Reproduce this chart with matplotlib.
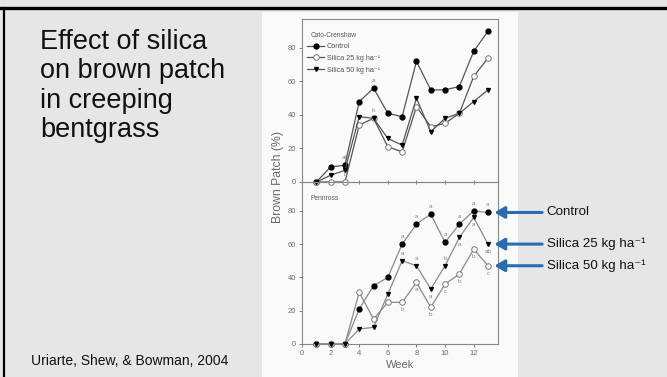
import numpy as np
import matplotlib
matplotlib.use("Agg")
import matplotlib.pyplot as plt
from matplotlib.patches import Rectangle
from matplotlib.lines import Line2D

plt.rcParams['font.family'] = ['Liberation Sans', 'DejaVu Sans']

weeks = np.arange(1, 14)

# Cato-Crenshaw (top panel)
ctrl_cato = [0, 9, 10, 48, 56, 41, 39, 72, 55, 55, 57, 78, 90]
si25_cato = [0, 0, 0, 34, 38, 21, 18, 45, 33, 35, 41, 63, 74]
si50_cato = [0, 4, 7, 39, 38, 26, 22, 50, 30, 38, 41, 48, 55]

# Pennross (bottom panel)
ctrl_pen = [0, 0, 0, 21, 35, 40, 60, 72, 78, 61, 72, 80, 79]
si25_pen = [0, 0, 0, 31, 15, 25, 25, 37, 22, 36, 42, 57, 47]
si50_pen = [0, 0, 0, 9, 10, 30, 50, 47, 33, 47, 64, 76, 60]

legend_labels = ["Control", "Silica 25 kg ha\u207b\u00b9", "Silica 50 kg ha\u207b\u00b9"]

# mean separation letters: (week, series, letter, side)
letters_cato = [(3, "ctrl", "ab", 1), (3, "si25", "b", 1),
                (5, "ctrl", "a", 1), (5, "si50", "b", 1)]
letters_pen = [(7, "ctrl", "a", 1), (7, "si50", "a", 1), (7, "si25", "b", -1),
               (8, "ctrl", "a", 1), (8, "si50", "a", 1), (8, "si25", "a", -1),
               (9, "ctrl", "a", 1), (9, "si50", "a", -1), (9, "si25", "b", -1),
               (10, "ctrl", "a", 1), (10, "si50", "b", 1), (10, "si25", "c", -1),
               (11, "ctrl", "a", 1), (11, "si50", "a", -1), (11, "si25", "b", -1),
               (12, "ctrl", "a", 1), (12, "si50", "a", -1), (12, "si25", "b", -1),
               (13, "ctrl", "a", 1), (13, "si50", "ab", -1), (13, "si25", "c", -1)]

# slide annotations on the right (label, value it points at)
arrow_labels = ["Control", "Silica 25 kg ha\u207b\u00b9", "Silica 50 kg ha\u207b\u00b9"]
arrow_values = [ctrl_pen[-1], si50_pen[-1], si25_pen[-1]]

W, H = 667, 377
fig = plt.figure(figsize=(W / 100, H / 100), dpi=100, facecolor='#e6e6e6')

# slide frame and pasted figure background
fig.add_artist(Line2D([0, 1], [1 - 8 / H, 1 - 8 / H], color='black', lw=2.4,
                      transform=fig.transFigure))
fig.add_artist(Line2D([4 / W, 4 / W], [0, 1 - 8 / H], color='black', lw=1.6,
                      transform=fig.transFigure))
fig.add_artist(Rectangle((262 / W, 0), 256 / W, (H - 12) / H, facecolor='#fafafa',
                         edgecolor='none', transform=fig.transFigure, zorder=0))

fig.text(40 / W, 1 - 29 / H, "Effect of silica\non brown patch\nin creeping\nbentgrass",
         fontsize=19.5, va='top', ha='left', linespacing=1.17, color='#111111')
fig.text(31 / W, 1 - 361 / H, "Uriarte, Shew, & Bowman, 2004", fontsize=10,
         va='center', ha='left', color='#111111')

left, width = 302 / W, 196 / W
ax1 = fig.add_axes([left, (H - 182) / H, width, 163 / H])
ax2 = fig.add_axes([left, (H - 344) / H, width, 162 / H])

gray = '#6a6a6a'


def draw_panel(ax, ctrl, si25, si50, line_col, letters, name):
    series = {"ctrl": ctrl, "si25": si25, "si50": si50}
    ax.set_facecolor('none')
    ax.plot(weeks, ctrl, '-o', color=line_col, lw=0.9, ms=3.5, mfc='black', mec='black',
            clip_on=False, zorder=3, label=legend_labels[0])
    ax.plot(weeks, si25, '-o', color=line_col, lw=0.9, ms=4.0, mfc='white', mec='#777777',
            mew=0.7, clip_on=False, zorder=3, label=legend_labels[1])
    ax.plot(weeks, si50, '-v', color=line_col, lw=0.9, ms=2.8, mfc='black', mec='black',
            clip_on=False, zorder=3, label=legend_labels[2])
    for wk, key, txt, side in letters:
        ax.text(wk, series[key][wk - 1] + side * 4.5, txt, fontsize=4.5, color='#888888',
                ha='center', va='center')
    ax.set_xlim(0, 13.7)
    ax.set_ylim(0, 97.3)
    ax.set_xticks(range(0, 13, 2))
    ax.set_yticks(range(0, 81, 20))
    ax.tick_params(labelsize=5.5, labelcolor=gray, color=gray, length=2.5, width=0.6, pad=2)
    for sp in ax.spines.values():
        sp.set_color('#888888')
        sp.set_linewidth(0.8)
    ax.text(0.045, 0.9, name, transform=ax.transAxes, fontsize=4.8, color='#555555',
            ha='left', va='center')


draw_panel(ax1, ctrl_cato, si25_cato, si50_cato, '#555555', letters_cato, "Cato-Crenshaw")
draw_panel(ax2, ctrl_pen, si25_pen, si50_pen, '#8a8a8a', letters_pen, "Pennross")
ax1.tick_params(axis='x', labelbottom=False, direction='inout')

leg = ax1.legend(loc='upper left', bbox_to_anchor=(0.01, 0.87), frameon=False,
                 fontsize=5.2, handlelength=2.4, labelspacing=0.65, handletextpad=0.4,
                 borderaxespad=0)
for t in leg.get_texts():
    t.set_color('#555555')

ax2.set_xlabel("Week", fontsize=8, color=gray, labelpad=2)
fig.text(278 / W, 1 - 177 / H, "Brown Patch (%)", rotation=90, fontsize=8.8, color=gray,
         ha='center', va='center')

arrow_col = '#2b6cb0'
for lab, val in zip(arrow_labels, arrow_values):
    ax2.annotate('', xy=(13.45, val), xycoords='data',
                 xytext=(1.225, val), textcoords=('axes fraction', 'data'),
                 arrowprops=dict(arrowstyle='-|>,head_width=0.35,head_length=0.6',
                                 color=arrow_col, lw=2.2, shrinkA=0, shrinkB=0),
                 annotation_clip=False)
    ax2.text(1.248, val, lab, transform=ax2.get_yaxis_transform(), fontsize=9.6,
             va='center', ha='left', color='#111111', clip_on=False)

fig.savefig("out.png", dpi=100, facecolor=fig.get_facecolor())
